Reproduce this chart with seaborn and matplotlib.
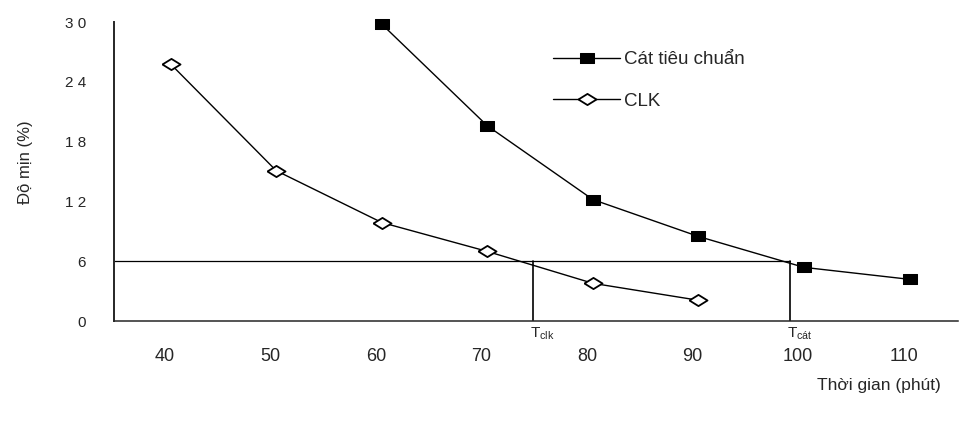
import matplotlib
matplotlib.use("Agg")
import matplotlib.pyplot as plt
import matplotlib.transforms as mtransforms
import seaborn as sns
import numpy as np

sns.set_style("white")
plt.rcParams['font.family'] = ['Liberation Sans', 'DejaVu Sans']

# data
cat_x = [60, 70, 80, 90, 100, 110]
cat_y = [29.8, 19.6, 12.2, 8.5, 5.4, 4.2]
clk_x = [40, 50, 60, 70, 80, 90]
clk_y = [25.8, 15.1, 9.9, 7.0, 3.8, 2.1]

y_ticks = [0, 6, 12, 18, 24, 30]
y_labels = ["0", "6", "1 2", "1 8", "2 4", "3 0"]
x_ticks = [40, 50, 60, 70, 80, 90, 100, 110]

t_level = 6
t_clk = 74.3
t_cat = 98.7

fig = plt.figure(figsize=(9.63, 4.26), dpi=100)
ax = fig.add_axes([0.118, 0.246, 0.877, 0.702])

# wide open diamond and flat square like the scan
diamond = [(-1, 0), (0, 0.62), (1, 0), (0, -0.62), (-1, 0)]
rect = [(-1, -0.68), (1, -0.68), (1, 0.68), (-1, 0.68), (-1, -0.68)]

sns.lineplot(x=cat_x, y=cat_y, ax=ax, color="black", lw=1, marker=rect,
             markersize=10, markerfacecolor="black", markeredgecolor="black",
             label="Cát tiêu chuẩn", clip_on=False)
sns.lineplot(x=clk_x, y=clk_y, ax=ax, color="black", lw=1, marker=diamond,
             markersize=13, markerfacecolor="white", markeredgecolor="black",
             markeredgewidth=1.3, label="CLK", clip_on=False)

# reference lines at 6 %
ax.plot([34.6, t_cat], [t_level, t_level], color="black", lw=0.9)
ax.plot([t_clk, t_clk], [0, t_level], color="black", lw=1.2)
ax.plot([t_cat, t_cat], [0, t_level], color="black", lw=1.2)

ax.set_xlim(34.6, 114.6)
ax.set_ylim(0, 30)
sns.despine(ax=ax, top=True, right=True)
ax.spines["left"].set_linewidth(1.4)
ax.spines["bottom"].set_linewidth(1.1)

ax.set_yticks(y_ticks)
ax.set_yticklabels(y_labels, fontsize=11)
ax.tick_params(axis="y", direction="out", length=3, width=0.8, pad=17)
ax.set_xticks(x_ticks)
ax.set_xticklabels([str(v) for v in x_ticks], fontsize=13)
ax.set_xticks(np.arange(40, 115, 5), minor=True)
ax.tick_params(axis="x", which="both", direction="in", length=3, width=0.8, pad=19)
# the scan's tick labels sit a little left of the data positions
shift = mtransforms.ScaledTranslation(-6 / 100, 0, fig.dpi_scale_trans)
for lab in ax.get_xticklabels():
    lab.set_transform(lab.get_transform() + shift)

ax.text(t_clk - 0.3, -0.45, "T$_{\\mathregular{clk}}$", ha="left", va="top", fontsize=11)
ax.text(t_cat - 0.3, -0.45, "T$_{\\mathregular{cát}}$", ha="left", va="top", fontsize=11)

fig.text(0.913, 0.095, "Thời gian (phút)", ha="center", va="center", fontsize=12.5)
fig.text(0.026, 0.62, "Độ mịn (%)", ha="center", va="center",
         rotation=90, fontsize=12)

leg = ax.legend(loc="upper left", bbox_to_anchor=(0.5, 0.96), frameon=False,
                fontsize=13.5, handlelength=3.6, labelspacing=1.3, handletextpad=0.2)

fig.savefig("out.png", dpi=100)
